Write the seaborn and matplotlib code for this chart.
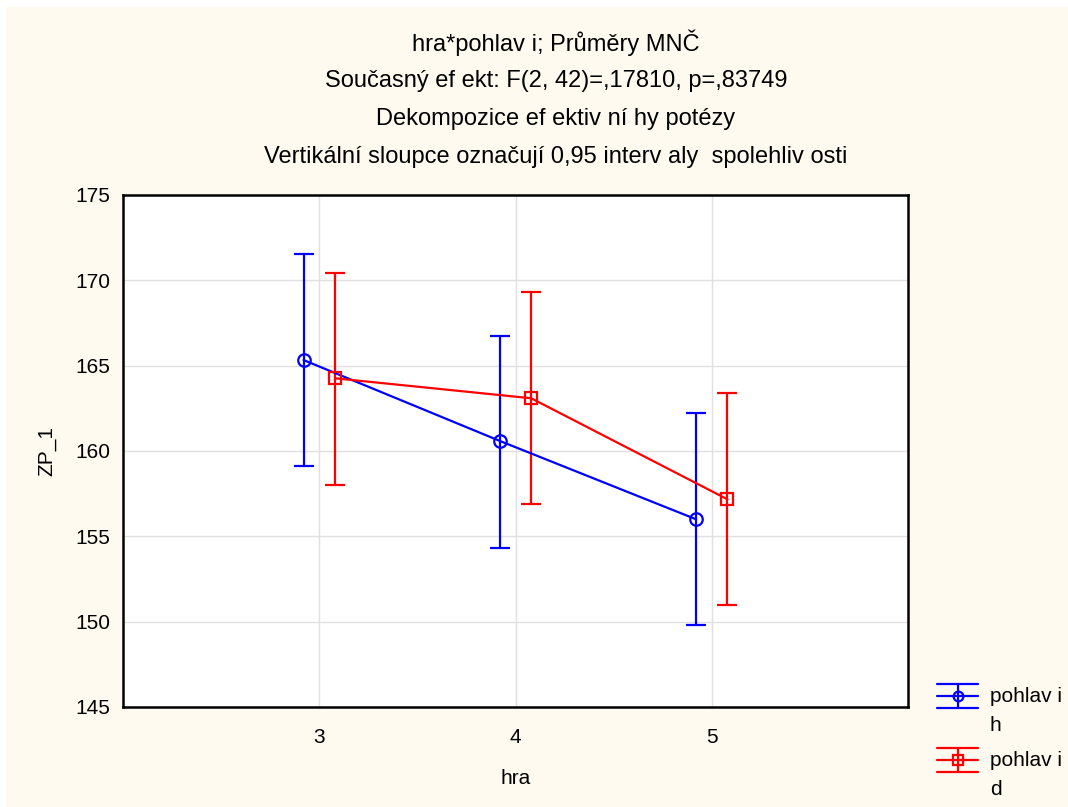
import matplotlib
matplotlib.use("Agg")
import numpy as np
import pandas as pd
import matplotlib.pyplot as plt
import seaborn as sns
from matplotlib.lines import Line2D
from matplotlib.patches import Rectangle
from matplotlib.legend_handler import HandlerBase

# data (LS means with 0.95 CI)
hra = [3, 4, 5]
prumer_h = [165.33, 160.59, 156.00]
dolni_h = [159.10, 154.30, 149.81]
horni_h = [171.54, 166.74, 162.25]
prumer_d = [164.26, 163.09, 157.17]
dolni_d = [158.01, 156.88, 150.98]
horni_d = [170.45, 169.30, 163.40]

titulky = [
    "hra*pohlav i; Průměry MNČ",
    "Současný ef ekt: F(2, 42)=,17810, p=,83749",
    "Dekompozice ef ektiv ní hy potézy",
    "Vertikální sloupce označují 0,95 interv aly  spolehliv osti",
]

sns.set_style("white")
plt.rcParams["font.family"] = ["Liberation Sans", "DejaVu Sans"]
plt.rcParams["text.color"] = "black"
plt.rcParams["axes.labelcolor"] = "black"

W, H = 1068, 807
fig = plt.figure(figsize=(W / 100, H / 100), dpi=100)
fig.patch.set_facecolor("white")
fig.add_artist(Rectangle((6 / W, 0), 1 - 6 / W, 1 - 7 / H, transform=fig.transFigure,
                         facecolor="#FFFAF0", edgecolor="none", zorder=-10))

ax = fig.add_axes([123 / W, 1 - 707 / H, (908 - 123) / W, (707 - 195) / H])
ax.set_facecolor("white")

posun = 0.08
df = pd.DataFrame({
    "hra": hra * 2,
    "pohlavi": ["h"] * 3 + ["d"] * 3,
    "prumer": prumer_h + prumer_d,
    "dolni": dolni_h + dolni_d,
    "horni": horni_h + horni_d,
})
df["pozice"] = df["hra"] + np.where(df["pohlavi"] == "h", -posun, posun)

barvy = {"h": "#0000FF", "d": "#FF0000"}
znacky = {"h": "o", "d": "s"}

# chybove useky
for pohl, g in df.groupby("pohlavi"):
    ax.errorbar(g["pozice"], g["prumer"],
                yerr=[g["prumer"] - g["dolni"], g["horni"] - g["prumer"]],
                fmt="none", ecolor=barvy[pohl], elinewidth=1.6, capsize=7, capthick=1.6, zorder=3)

n_pred = len(ax.lines)
sns.lineplot(data=df, x="pozice", y="prumer", hue="pohlavi", style="pohlavi",
             palette=barvy, markers=znacky, dashes=False, markersize=9,
             linewidth=1.6, legend=False, ax=ax, zorder=4)
for ln in ax.lines[n_pred:]:
    ln.set_markeredgecolor(ln.get_color())
    ln.set_markerfacecolor("none")
    ln.set_markeredgewidth(1.6)

ax.set_xlim(2, 6)
ax.set_ylim(145, 175)
ax.set_xticks(hra)
ax.set_yticks(range(145, 176, 5))
ax.grid(True, color="#E0E0E0", linewidth=1)
ax.tick_params(direction="in", length=4, width=1.2, labelsize=15, colors="black", pad=9)
ax.tick_params(axis="x", pad=15)
for s in ax.spines.values():
    s.set_color("black")
    s.set_linewidth(1.8)
ax.set_xlabel("hra", fontsize=15, labelpad=16)
ax.set_ylabel("ZP_1", fontsize=15, labelpad=14)

for i, t in enumerate(titulky):
    fig.text(556 / W, 1 - (43 + 38 * i) / H, t, ha="center", va="center", fontsize=17)


class ChybovyHandler(HandlerBase):
    def create_artists(self, legend, orig, xdescent, ydescent, width, height, fontsize, trans):
        c = orig.get_color()
        cy = height / 2 - ydescent + 11
        x0, x1 = -xdescent, width - xdescent
        xm = (x0 + x1) / 2
        d = 8.5
        art = [
            Line2D([x0, x1], [cy, cy], color=c, lw=1.6),
            Line2D([x0, x1], [cy + d, cy + d], color=c, lw=1.6),
            Line2D([x0, x1], [cy - d, cy - d], color=c, lw=1.6),
            Line2D([xm, xm], [cy - d, cy + d], color=c, lw=1.6),
            Line2D([xm], [cy], marker=orig.get_marker(), markersize=7, mfc="none", mec=c, mew=1.6),
        ]
        for a in art:
            a.set_transform(trans)
        return art


handles = [Line2D([], [], color=barvy[p], marker=znacky[p]) for p in ["h", "d"]]
leg = fig.legend(handles, ["pohlav i\nh", "pohlav i\nd"], loc="upper left",
                 bbox_to_anchor=(918 / W, 1 - 668 / H), frameon=False, fontsize=15,
                 handlelength=2.0, handletextpad=0.55, labelspacing=0.75,
                 handler_map={Line2D: ChybovyHandler()})
for t in leg.get_texts():
    t.set_linespacing(1.7)

fig.savefig("out.png", dpi=100)
